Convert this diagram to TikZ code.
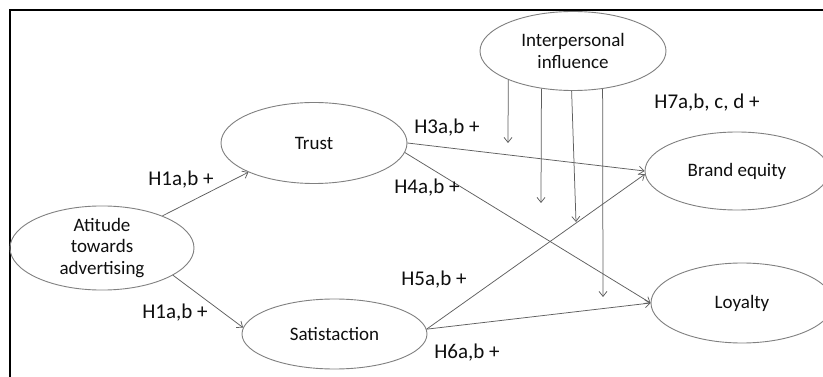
\documentclass[tikz,border=0pt]{standalone}
\usepackage{fontspec}
\setmainfont{Carlito}
\usetikzlibrary{shapes.geometric,arrows.meta}
\definecolor{ellgray}{RGB}{128,128,128}
\definecolor{arrgray}{RGB}{95,95,95}
\definecolor{txt}{RGB}{15,15,15}
\tikzset{
  construct/.style={ellipse, draw=ellgray, line width=0.9pt, inner sep=0pt, align=center,
    text=txt, font=\fontsize{19}{21.5}\selectfont},
  hyp/.style={text=txt, font=\fontsize{21}{24}\selectfont, inner sep=0pt},
  path/.style={draw=arrgray, line width=0.75pt, -{Straight Barb[length=5pt,width=8pt]}},
}
\begin{document}
\begin{tikzpicture}[x=1pt,y=-1pt]
\useasboundingbox (0,0) rectangle (823,377);
\clip (0,0) rectangle (823,377);
\fill[white] (0,0) rectangle (823,377);
% frame
\draw[black, line width=1.2pt] (10,377) -- (10,10) -- (823,10);
% constructs
\node[construct, minimum width=184, minimum height=70] (att) at (102,248) {Atitude\\towards\\advertising};
\node[construct, minimum width=186, minimum height=81] (trust) at (314,143) {Trust};
\node[construct, minimum width=185, minimum height=70] (sat) at (334.5,334) {Satistaction};
\node[construct, minimum width=186, minimum height=79] (inf) at (573,51) {Interpersonal\\influence};
\node[construct, minimum width=184, minimum height=78] (brand) at (737,171) {Brand equity};
\node[construct, minimum width=182, minimum height=80] (loy) at (742,303) {Loyalty};
% moderation targets
\coordinate (m1) at (508,143);
\coordinate (m2) at (541,203);
\coordinate (m3) at (576,222);
\coordinate (m4) at (603,297);
% paths
\draw[path] (att.28) -- (trust.204);
\draw[path] (att.-21) -- (sat.176);
\draw[path] (trust.east) -- (brand.west);
\draw[path] (trust.-6) -- (loy.west);
\draw[path] (sat.3) -- (brand.182);
\draw[path] (sat.3) -- (loy.west);
\draw[path] (inf.204) -- (m1);
\draw[path] (inf.230) -- (m2);
\draw[path] (inf.268.6) -- (m3);
\draw[path] (inf.308.3) -- (m4);
% labels
\node[hyp] (l1) at (181,180) {H1a,b +};
\node[hyp] (l2) at (175,313) {H1a,b +};
\node[hyp] (l3) at (447,128) {H3a,b +};
\node[hyp] (l4) at (427,188) {H4a,b +};
\node[hyp] (l5) at (434,280) {H5a,b +};
\node[hyp] (l6) at (467,353) {H6a,b +};
\node[hyp] (l7) at (707,103) {H7a,b, c, d +};
\end{tikzpicture}
\end{document}
